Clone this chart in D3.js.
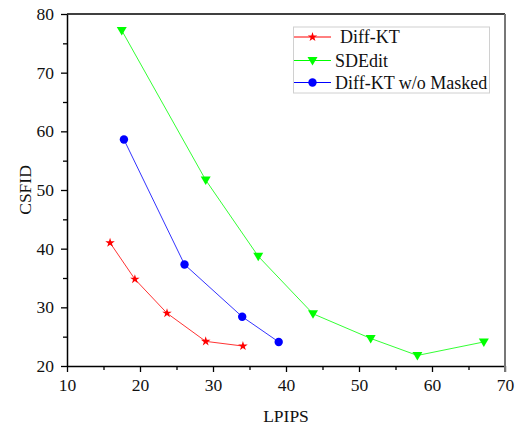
<!DOCTYPE html>
<html><head><meta charset="utf-8">
<script src="https://cdn.jsdelivr.net/npm/d3@7"></script>
<style>body{margin:0;background:#fff}svg{display:block}</style>
</head><body>
<svg id="c" width="520" height="428"></svg>
<script>
const xTicks = [10, 20, 30, 40, 50, 60, 70];
const yTicks = [20, 30, 40, 50, 60, 70, 80];
const xMinor = [15, 25, 35, 45, 55, 65];
const yMinor = [25, 35, 45, 55, 65, 75];
const seriesNames = ["Diff-KT", "SDEdit", "Diff-KT w/o Masked"];
const diffKT_x = [15.9, 19.3, 23.7, 29.0, 34.1];
const diffKT_y = [41.0, 34.8, 29.0, 24.2, 23.4];
const sdedit_x = [17.5, 29.0, 36.2, 43.7, 51.6, 58.0, 67.1];
const sdedit_y = [77.2, 51.7, 38.7, 28.9, 24.7, 21.8, 24.1];
const noMask_x = [17.8, 26.1, 34.0, 39.0];
const noMask_y = [58.6, 37.3, 28.4, 24.1];
const colors = ["#ff0000", "#00ff00", "#0000ff"];
const xTitle = "LPIPS", yTitle = "CSFID";

const svg = d3.select("#c");
const L = 67, R = 505, T = 14, B = 366;
const x = d3.scaleLinear().domain([10, 70]).range([L, R]);
const y = d3.scaleLinear().domain([20, 80]).range([B, T]);
const font = "'Liberation Serif','Times New Roman',serif";

// minor ticks
svg.append("g").attr("transform", `translate(0,${B})`)
  .call(d3.axisBottom(x).tickValues(xMinor).tickSize(4).tickFormat(""))
  .call(g => g.select(".domain").remove())
  .selectAll("line").attr("stroke", "#000").attr("stroke-width", 1.3);
svg.append("g").attr("transform", `translate(${L},0)`)
  .call(d3.axisLeft(y).tickValues(yMinor).tickSize(4).tickFormat(""))
  .call(g => g.select(".domain").remove())
  .selectAll("line").attr("stroke", "#000").attr("stroke-width", 1.3);

// major axes
const gx = svg.append("g").attr("transform", `translate(0,${B})`)
  .call(d3.axisBottom(x).tickValues(xTicks).tickSize(6).tickSizeOuter(0));
gx.select(".domain").attr("stroke", "#000").attr("stroke-width", 1.5);
gx.selectAll("line").attr("stroke", "#000").attr("stroke-width", 1.3);
gx.selectAll("text").attr("y", 25).attr("dy", null)
  .attr("font-family", font).attr("font-size", 17.5).attr("fill", "#111");

const gy = svg.append("g").attr("transform", `translate(${L},0)`)
  .call(d3.axisLeft(y).tickValues(yTicks).tickSize(6).tickSizeOuter(0));
gy.select(".domain").attr("stroke", "#000").attr("stroke-width", 1.5);
gy.selectAll("line").attr("stroke", "#000").attr("stroke-width", 1.3);
gy.selectAll("text").attr("x", -13)
  .attr("font-family", font).attr("font-size", 17.5).attr("fill", "#111");

// frame top & right
svg.append("line").attr("x1", L).attr("x2", R).attr("y1", T).attr("y2", T)
  .attr("stroke", "#000").attr("stroke-width", 1.5);
svg.append("line").attr("x1", R).attr("x2", R).attr("y1", T).attr("y2", B + 6)
  .attr("stroke", "#777").attr("stroke-width", 2);

// titles
svg.append("text").attr("x", (L + R) / 2).attr("y", 422).attr("text-anchor", "middle")
  .attr("font-family", font).attr("font-size", 17.5).attr("fill", "#111").text(xTitle);
svg.append("text").attr("transform", `translate(31,${(T + B) / 2}) rotate(-90)`)
  .attr("text-anchor", "middle")
  .attr("font-family", font).attr("font-size", 17.5).attr("fill", "#111").text(yTitle);

// symbols
const star = d3.symbol().type(d3.symbolStar).size(28)();
const tri = "M-5,-3.5L5,-3.5L0,5Z";
const circ = d3.symbol().type(d3.symbolCircle).size(Math.PI * 4.2 * 4.2)();
const symbols = [star, tri, circ];

const series = [
  d3.zip(diffKT_x, diffKT_y),
  d3.zip(sdedit_x, sdedit_y),
  d3.zip(noMask_x, noMask_y)
];
const line = d3.line().x(d => x(d[0])).y(d => y(d[1]));

series.forEach((s, i) => {
  svg.append("path").datum(s).attr("d", line).attr("fill", "none")
    .attr("stroke", colors[i]).attr("stroke-width", 1).attr("opacity", 0.8);
});
series.forEach((s, i) => {
  svg.append("g").selectAll("path").data(s).join("path")
    .attr("transform", d => `translate(${x(d[0])},${y(d[1])})`)
    .attr("d", symbols[i]).attr("fill", colors[i]);
});

// legend
const lg = svg.append("g");
lg.append("rect").attr("x", 293.5).attr("y", 27).attr("width", 196).attr("height", 66)
  .attr("fill", "#fff").attr("stroke", "#d0d0d0").attr("stroke-width", 1);
const rowsY = [37, 60.5, 82.5];
seriesNames.forEach((n, i) => {
  lg.append("line").attr("x1", 294).attr("x2", 331).attr("y1", rowsY[i]).attr("y2", rowsY[i])
    .attr("stroke", colors[i]).attr("stroke-width", 1);
  lg.append("path").attr("transform", `translate(312.5,${rowsY[i]})`)
    .attr("d", symbols[i]).attr("fill", colors[i]);
  lg.append("text").attr("x", i === 0 ? 340 : 335).attr("y", rowsY[i] + 6)
    .attr("font-family", font).attr("font-size", 18).attr("fill", "#111").text(n);
});
</script>
</body></html>
